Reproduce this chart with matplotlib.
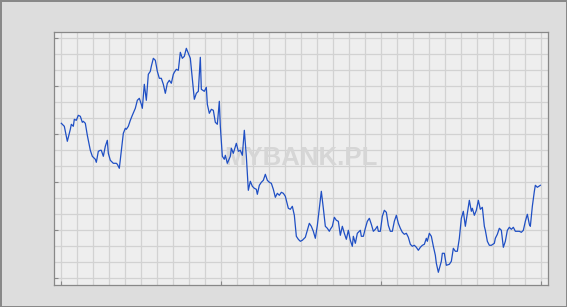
import matplotlib
matplotlib.use("Agg")
import matplotlib.pyplot as plt
from matplotlib.ticker import MultipleLocator, NullFormatter

# session index (x) and index level (y)
days = [0, 3, 6, 9, 10, 12, 13, 15, 17, 19, 21, 22, 24, 26, 29, 31, 34, 35, 37, 39,
        40, 42, 44, 46, 47, 49, 52, 55, 56, 58, 60, 62, 64, 65, 67, 69,
        71, 74, 76, 78, 80, 81, 83, 85, 87, 89, 90, 92, 94, 96, 98, 100, 102, 104,
        106, 108, 110, 112, 113, 115, 117, 119, 121, 123, 125, 127, 129, 131, 133,
        135, 137, 139, 140, 143, 145, 146, 148,
        150, 152, 154, 156, 158, 159, 161, 163, 164, 166, 169, 170, 172, 175, 177,
        179, 181, 183, 185, 187, 189, 191, 193, 195, 196, 198, 200, 202, 204, 206,
        208, 210, 212, 214, 216, 218, 220,
        222, 224, 227, 229, 231, 233, 235, 237, 239, 241, 244, 246, 248, 250, 252,
        254, 256, 258, 260, 262, 264, 266, 268, 269, 271, 273, 275, 277, 279, 281,
        283, 285, 287, 289, 291, 292, 294, 296, 299,
        300, 302, 304, 306, 308, 310, 312, 314, 316, 317, 319, 321, 323, 325, 327,
        329, 331, 333, 335, 337, 339, 341, 343, 345, 347, 349, 351, 353, 355, 357,
        359, 361, 363, 365, 366, 368, 370, 372, 374, 375, 377,
        380, 381, 383, 385, 388, 390, 392, 394, 396, 398, 400, 402, 404, 406, 408,
        410, 411, 413, 415, 417, 419, 421, 423, 424, 426, 428, 430, 433, 434, 436,
        438, 440,
        442, 444, 446, 448, 450, 452, 454, 456, 458, 460, 462, 464, 466, 468, 469,
        471, 473, 474, 476, 479]
values = [155, 152, 137, 149, 154, 152, 159, 158, 163, 162, 156, 157, 155, 143, 128, 122, 119, 116, 127, 128,
          128, 122, 132, 138, 125, 118, 115, 115, 114, 110, 128, 145, 150, 149, 152, 158,
          163, 170, 178, 180, 174, 170, 194, 178, 204, 207, 212, 220, 218, 207, 200, 200, 194, 185,
          195, 198, 195, 204, 206, 209, 208, 226, 220, 222, 230, 225, 220, 200, 179,
          185, 187, 221, 189, 187, 191, 174, 165,
          169, 168, 156, 154, 177, 152, 122, 119, 123, 115, 122, 130, 125, 135, 127,
          128, 123, 148, 122, 88, 97, 92, 90, 89, 84, 93, 96, 98, 104, 98,
          96, 95, 89, 81, 85, 83, 86,
          85, 82, 70, 69, 72, 63, 42, 39, 37, 38, 41, 48, 55, 52, 47,
          40, 53, 70, 87, 70, 52, 50, 47, 49, 52, 61, 58, 57, 43, 52,
          45, 39, 48, 38, 32, 42, 35, 45, 48,
          42, 42, 50, 57, 60, 54, 47, 49, 52, 47, 47, 62, 68, 66, 53,
          47, 47, 57, 63, 55, 50, 46, 44, 45, 41, 34, 32, 33, 31, 28,
          31, 33, 34, 40, 37, 45, 42, 32, 23, 15, 6,
          17, 25, 25, 13, 14, 17, 30, 27, 27, 40, 60, 67, 52, 65, 78,
          67, 70, 63, 68, 78, 69, 71, 52, 48, 37, 33, 33, 35, 40, 44,
          50, 48,
          31, 37, 48, 51, 49, 51, 47, 47, 47, 46, 48, 57, 64, 54, 52,
          72, 87, 93, 91, 93]

fig = plt.figure(figsize=(5.67, 3.07), dpi=100)
fig.patch.set_facecolor("#dddddd")
fig.patch.set_edgecolor("#888888")
fig.patch.set_linewidth(2)

ax = fig.add_axes([0.0958, 0.0717, 0.8713, 0.825])
ax.set_facecolor("#eeeeee")

ax.text(0.5, 0.5, "MYBANK.PL", transform=ax.transAxes, ha="center", va="center",
        fontsize=18.5, fontweight="bold", family="Liberation Sans",
        color="#d6d6d6", zorder=1)

ax.plot(days, values, color="#1f4fc4", lw=0.9, zorder=3)

ax.set_xlim(-7, 487)
ax.set_ylim(-6.7, 246.6)
ax.xaxis.set_major_locator(MultipleLocator(160))
ax.xaxis.set_minor_locator(MultipleLocator(16))
ax.yaxis.set_major_locator(MultipleLocator(48))
ax.yaxis.set_minor_locator(MultipleLocator(16))
ax.xaxis.set_major_formatter(NullFormatter())
ax.yaxis.set_major_formatter(NullFormatter())
ax.tick_params(which="major", direction="in", length=3, width=0.8, color="#888888")
ax.tick_params(which="minor", length=0)
ax.grid(which="both", color="#d2d2d2", lw=0.9, zorder=0)
ax.set_axisbelow(True)
for s in ax.spines.values():
    s.set_color("#888888")
    s.set_linewidth(0.9)

fig.savefig("out.png", dpi=100, facecolor=fig.get_facecolor(), edgecolor=fig.get_edgecolor())
